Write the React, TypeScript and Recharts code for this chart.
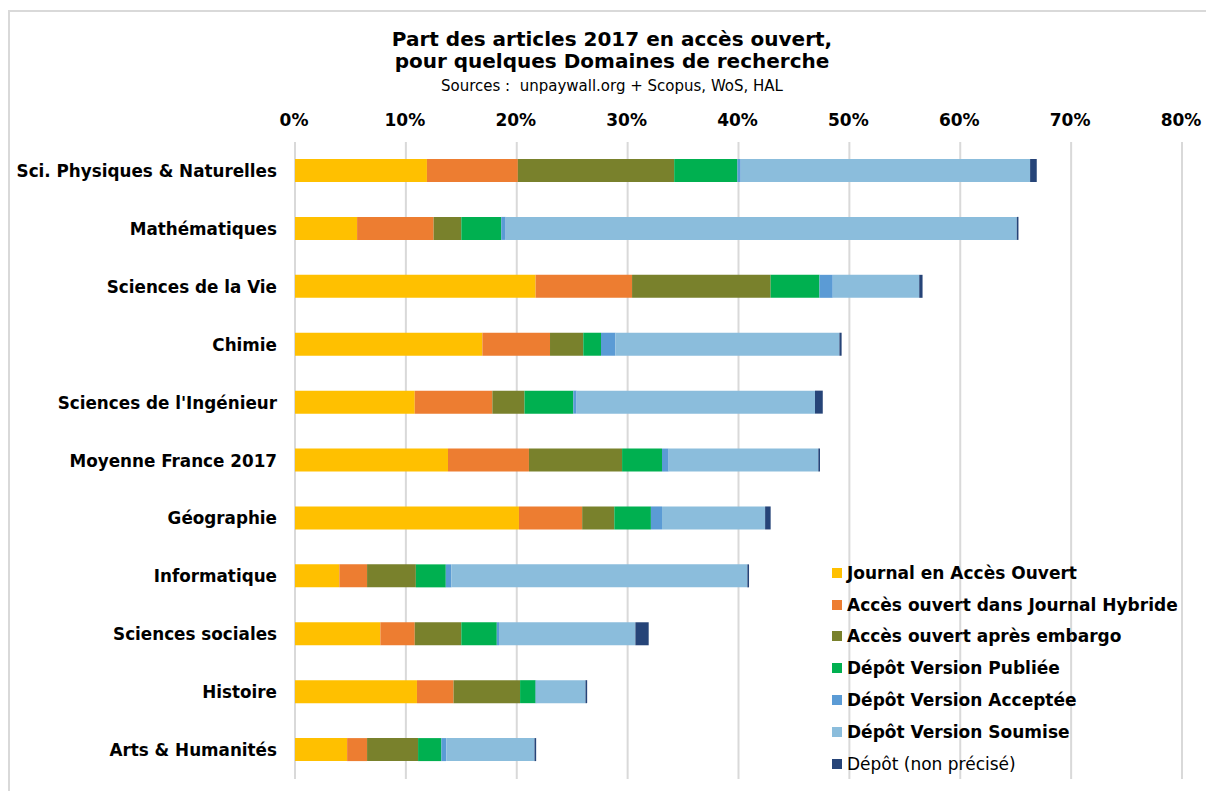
import React from 'react';
import { BarChart, Bar, XAxis, YAxis, CartesianGrid } from 'recharts';

// Domaines (top to bottom)
const domaines = [
  'Sci. Physiques & Naturelles',
  'Mathématiques',
  'Sciences de la Vie',
  'Chimie',
  "Sciences de l'Ingénieur",
  'Moyenne France 2017',
  'Géographie',
  'Informatique',
  'Sciences sociales',
  'Histoire',
  'Arts & Humanités',
];

// parts en %
const journalOA = [11.9, 5.6, 21.7, 16.9, 10.8, 13.8, 20.2, 4.0, 7.7, 11.0, 4.7];
const hybride = [8.2, 6.9, 8.7, 6.1, 7.0, 7.3, 5.7, 2.5, 3.1, 3.3, 1.8];
const embargo = [14.1, 2.5, 12.5, 3.0, 2.9, 8.4, 2.9, 4.4, 4.2, 6.0, 4.6];
const depotPubliee = [5.7, 3.6, 4.4, 1.6, 4.4, 3.6, 3.3, 2.7, 3.2, 1.4, 2.1];
const depotAcceptee = [0.3, 0.4, 1.2, 1.3, 0.3, 0.6, 1.0, 0.5, 0.2, 0.1, 0.45];
const depotSoumise = [26.1, 46.1, 7.8, 20.2, 21.5, 13.5, 9.3, 26.7, 12.3, 4.4, 7.95];
const depotNonPrecise = [0.6, 0.15, 0.3, 0.2, 0.7, 0.15, 0.5, 0.15, 1.2, 0.15, 0.15];

const xTicks = [0, 10, 20, 30, 40, 50, 60, 70, 80];

const series = [
  { key: 'journal', name: 'Journal en Accès Ouvert', color: '#FFC000', values: journalOA },
  { key: 'hybride', name: 'Accès ouvert dans Journal Hybride', color: '#ED7D31', values: hybride },
  { key: 'embargo', name: 'Accès ouvert après embargo', color: '#79812C', values: embargo },
  { key: 'publiee', name: 'Dépôt Version Publiée', color: '#00B050', values: depotPubliee },
  { key: 'acceptee', name: 'Dépôt Version Acceptée', color: '#5B9BD5', values: depotAcceptee },
  { key: 'soumise', name: 'Dépôt Version Soumise', color: '#8BBDDC', values: depotSoumise },
  { key: 'nonprecise', name: 'Dépôt (non précisé)', color: '#264478', values: depotNonPrecise },
];

const data = domaines.map((name, i) => {
  const row: any = { name };
  series.forEach((s) => { row[s.key] = s.values[i]; });
  return row;
});

const font = '"DejaVu Sans", Arial, sans-serif';

const CatTick = (props: any) => {
  const { y, payload } = props;
  return (
    <text x={277} y={y} dy={6} textAnchor="end" fontFamily={font} fontWeight="bold" fontSize={16.8} fill="#000">
      {payload.value}
    </text>
  );
};

const PctTick = (props: any) => {
  const { x, payload } = props;
  return (
    <text x={x - 1} y={120} dy={6} textAnchor="middle" fontFamily={font} fontWeight="bold" fontSize={17} fill="#000">
      {payload.value}%
    </text>
  );
};

export default function App() {
  return (
    <div style={{ position: 'absolute', left: 0, top: 0, width: 1206, height: 791, background: '#fff', overflow: 'hidden' }}>
      <div style={{ position: 'absolute', left: 8, top: 10, width: 1210, height: 800, border: '2px solid #d9d9d9', boxSizing: 'border-box' }} />
      <BarChart
        width={1206}
        height={791}
        data={data}
        layout="vertical"
        barSize={23}
        margin={{ top: 112, right: 24, bottom: 12, left: 0 }}
        style={{ position: 'absolute', left: 0, top: 0 }}
      >
        <CartesianGrid horizontal={false} stroke="#d9d9d9" strokeWidth={2} />
        <XAxis
          type="number"
          orientation="top"
          height={30}
          domain={[0, 80]}
          ticks={xTicks}
          axisLine={false}
          tickLine={false}
          tick={<PctTick />}
          interval={0}
        />
        <YAxis
          type="category"
          dataKey="name"
          width={295}
          axisLine={false}
          tickLine={false}
          tick={<CatTick />}
          interval={0}
        />
        {series.map((s) => (
          <Bar key={s.key} dataKey={s.key} name={s.name} stackId="a" fill={s.color} isAnimationActive={false} />
        ))}
      </BarChart>
      <div style={{ position: 'absolute', left: 0, width: 1224, top: 28, textAlign: 'center', fontFamily: font, color: '#000' }}>
        <div style={{ fontWeight: 'bold', fontSize: 20, lineHeight: '22px' }}>Part des articles 2017 en accès ouvert,</div>
        <div style={{ fontWeight: 'bold', fontSize: 20, lineHeight: '22px' }}>pour quelques Domaines de recherche</div>
        <div style={{ fontSize: 15, lineHeight: '20px', marginTop: 4 }}>Sources :&nbsp; unpaywall.org + Scopus, WoS, HAL</div>
      </div>
      <div style={{ position: 'absolute', left: 832, top: 557, fontFamily: font, fontSize: 17, color: '#000', whiteSpace: 'nowrap' }}>
        {series.map((s, i) => (
          <div key={s.key} style={{ display: 'flex', alignItems: 'center', height: 31.8 }}>
            <span style={{ display: 'inline-block', width: 10, height: 10, background: s.color, marginRight: 5 }} />
            <span style={{ fontWeight: i < 6 ? 'bold' : 'normal' }}>{s.name}</span>
          </div>
        ))}
      </div>
    </div>
  );
}
